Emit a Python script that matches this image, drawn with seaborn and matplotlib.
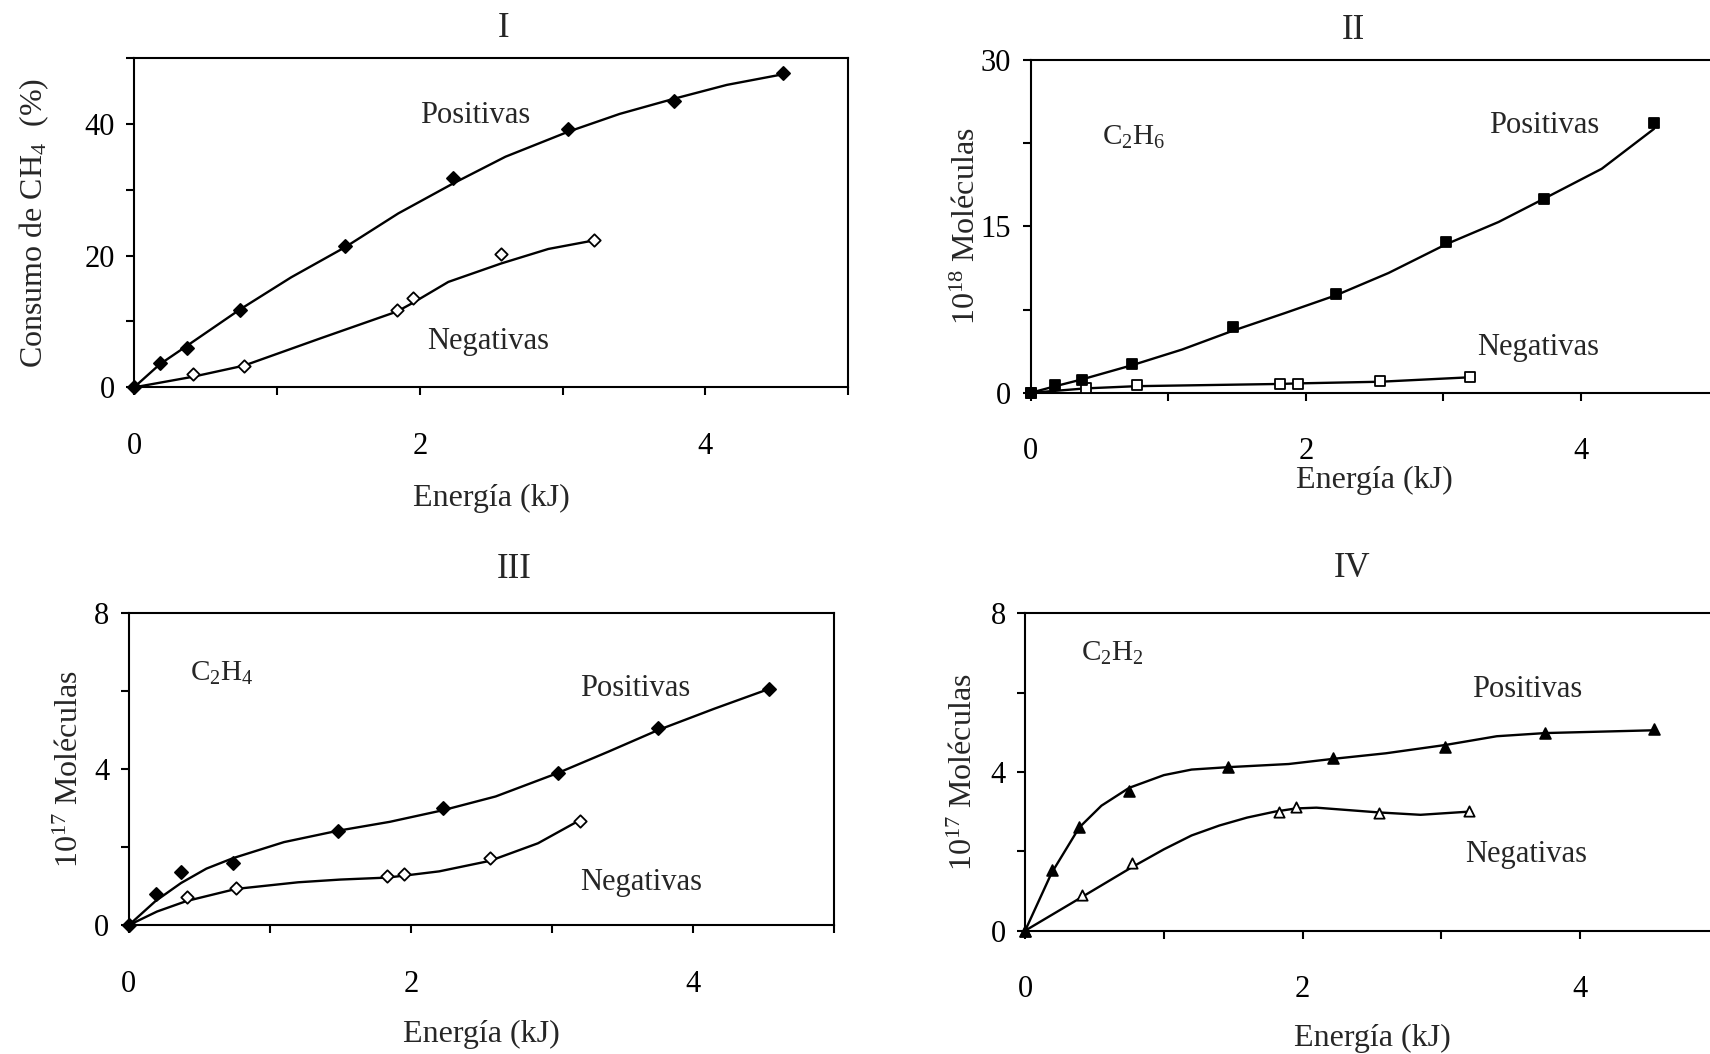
import numpy as np
import pandas as pd
import matplotlib
matplotlib.use("Agg")
import matplotlib.pyplot as plt
import seaborn as sns

# Values (energy in kJ)
# Panel I - CH4 consumption (%)
i_pos_x = [0, 0.18, 0.37, 0.74, 1.48, 2.23, 3.04, 3.78, 4.54]
i_pos_y = [0, 3.7, 6.0, 11.7, 21.5, 31.7, 39.2, 43.5, 47.7]
i_pos_fit_x = [0, 0.18, 0.37, 0.74, 1.1, 1.48, 1.85, 2.23, 2.6, 3.04, 3.4, 3.78, 4.15, 4.54]
i_pos_fit_y = [0, 3.5, 6.3, 11.8, 16.7, 21.3, 26.4, 30.9, 35.0, 38.8, 41.5, 43.8, 45.9, 47.5]
i_neg_x = [0, 0.41, 0.77, 1.84, 1.95, 2.57, 3.22]
i_neg_y = [0, 2.0, 3.3, 11.8, 13.5, 20.2, 22.3]
i_neg_fit_x = [0, 0.41, 0.77, 1.3, 1.84, 1.95, 2.2, 2.57, 2.9, 3.22]
i_neg_fit_y = [0, 1.6, 3.3, 7.4, 11.5, 12.8, 16.0, 18.8, 21.0, 22.3]

# Panel II - C2H6 (10^18 molecules)
ii_pos_x = [0, 0.18, 0.37, 0.74, 1.47, 2.22, 3.02, 3.73, 4.53]
ii_pos_y = [0, 0.7, 1.2, 2.6, 5.9, 8.9, 13.6, 17.5, 24.3]
ii_pos_fit_x = [0, 0.18, 0.37, 0.74, 1.1, 1.47, 1.85, 2.22, 2.6, 3.02, 3.4, 3.73, 4.15, 4.53]
ii_pos_fit_y = [0, 0.6, 1.2, 2.5, 3.9, 5.6, 7.2, 8.8, 10.8, 13.4, 15.4, 17.5, 20.2, 23.8]
ii_neg_x = [0, 0.40, 0.77, 1.81, 1.94, 2.54, 3.19]
ii_neg_y = [0, 0.4, 0.7, 0.8, 0.8, 1.1, 1.4]
ii_neg_fit = [0, 0.4, 0.6, 0.8, 0.85, 1.0, 1.4]

# Panel III - C2H4 (10^17 molecules)
iii_pos_x = [0, 0.19, 0.37, 0.74, 1.48, 2.23, 3.04, 3.75, 4.54]
iii_pos_y = [0, 0.79, 1.37, 1.59, 2.42, 3.0, 3.9, 5.05, 6.06]
iii_pos_fit_x = [0, 0.19, 0.37, 0.55, 0.74, 1.1, 1.48, 1.85, 2.23, 2.6, 3.04, 3.4, 3.75, 4.15, 4.54]
iii_pos_fit_y = [0, 0.62, 1.08, 1.45, 1.72, 2.13, 2.42, 2.65, 2.95, 3.3, 3.9, 4.45, 5.0, 5.55, 6.06]
iii_neg_x = [0, 0.41, 0.76, 1.83, 1.95, 2.56, 3.20]
iii_neg_y = [0, 0.73, 0.96, 1.26, 1.30, 1.72, 2.68]
iii_neg_fit_x = [0, 0.2, 0.41, 0.76, 1.2, 1.5, 1.83, 1.95, 2.2, 2.56, 2.9, 3.2]
iii_neg_fit_y = [0, 0.35, 0.62, 0.93, 1.1, 1.17, 1.22, 1.27, 1.38, 1.65, 2.1, 2.7]

# Panel IV - C2H2 (10^17 molecules)
iv_pos_x = [0, 0.19, 0.39, 0.75, 1.46, 2.22, 3.03, 3.75, 4.53]
iv_pos_y = [0, 1.53, 2.61, 3.51, 4.12, 4.35, 4.64, 4.97, 5.07]
iv_pos_fit_x = [0, 0.19, 0.39, 0.55, 0.75, 1.0, 1.2, 1.46, 1.9, 2.22, 2.6, 3.03, 3.4, 3.75, 4.53]
iv_pos_fit_y = [0, 1.45, 2.6, 3.15, 3.6, 3.92, 4.06, 4.12, 4.2, 4.33, 4.47, 4.68, 4.9, 4.98, 5.05]
iv_neg_x = [0, 0.41, 0.77, 1.83, 1.95, 2.55, 3.20]
iv_neg_y = [0, 0.91, 1.70, 2.99, 3.12, 2.96, 3.02]
iv_neg_fit_x = [0, 0.41, 0.77, 1.0, 1.2, 1.4, 1.6, 1.8, 1.95, 2.1, 2.55, 2.85, 3.2]
iv_neg_fit_y = [0, 0.85, 1.6, 2.05, 2.4, 2.65, 2.85, 3.0, 3.08, 3.1, 2.98, 2.92, 3.0]

sns.set_theme(style="ticks")
plt.rcParams.update({
    'font.family': ['Liberation Serif', 'DejaVu Serif'],
    'mathtext.fontset': 'stix',
    'font.size': 22,
    'axes.edgecolor': 'black',
    'axes.linewidth': 1.5,
    'xtick.color': 'black',
    'ytick.color': 'black',
    'xtick.major.width': 1.5,
    'ytick.major.width': 1.5,
    'xtick.major.size': 6,
    'ytick.major.size': 6,
})

fig = plt.figure(figsize=(17.1, 10.54), dpi=100)
axes = [
    fig.add_axes([0.0784, 0.6325, 0.4177, 0.3126]),
    fig.add_axes([0.6027, 0.6273, 0.4024, 0.3157]),
    fig.add_axes([0.0753, 0.1222, 0.4126, 0.2961]),
    fig.add_axes([0.5995, 0.1170, 0.4056, 0.3012]),
]


def draw_series(ax, fit_x, fit_y, x, y, marker, filled, size):
    sns.lineplot(x=fit_x, y=fit_y, ax=ax, color='black', linewidth=1.7,
                 sort=False, estimator=None)
    sns.scatterplot(x=x, y=y, ax=ax, marker=marker, s=size,
                    color='black' if filled else 'white',
                    edgecolor='black', linewidth=1.3, zorder=3, clip_on=False)


# negatives first so the filled positive marker sits on top at the origin
draw_series(axes[0], i_neg_fit_x, i_neg_fit_y, i_neg_x, i_neg_y, 'D', False, 40)
draw_series(axes[0], i_pos_fit_x, i_pos_fit_y, i_pos_x, i_pos_y, 'D', True, 45)
draw_series(axes[1], ii_neg_x, ii_neg_fit, ii_neg_x, ii_neg_y, 's', False, 50)
draw_series(axes[1], ii_pos_fit_x, ii_pos_fit_y, ii_pos_x, ii_pos_y, 's', True, 55)
draw_series(axes[2], iii_neg_fit_x, iii_neg_fit_y, iii_neg_x, iii_neg_y, 'D', False, 40)
draw_series(axes[2], iii_pos_fit_x, iii_pos_fit_y, iii_pos_x, iii_pos_y, 'D', True, 45)
draw_series(axes[3], iv_neg_fit_x, iv_neg_fit_y, iv_neg_x, iv_neg_y, '^', False, 55)
draw_series(axes[3], iv_pos_fit_x, iv_pos_fit_y, iv_pos_x, iv_pos_y, '^', True, 60)

# axis setup: (ymax, yticks, ylabels, ylabel, label x, xlabel y, title, title x, title y)
setup = [
    (50, [0, 10, 20, 30, 40, 50], ['0', '', '20', '', '40', ''],
     r'Consumo de CH$\mathregular{_4}$  (%)', -0.116, -0.292, 'I', 0.518, 1.09),
    (30, [0, 7.5, 15, 22.5, 30], ['0', '', '15', '', '30'],
     r'$\mathregular{10^{18}}$ Moléculas', -0.071, -0.219, 'II', 0.469, 1.09),
    (8, [0, 2, 4, 6, 8], ['0', '', '4', '', '8'],
     r'$\mathregular{10^{17}}$ Moléculas', -0.062, -0.305, 'III', 0.546, 1.14),
    (8, [0, 2, 4, 6, 8], ['0', '', '4', '', '8'],
     r'$\mathregular{10^{17}}$ Moléculas', -0.067, -0.295, 'IV', 0.472, 1.14),
]

for ax, (ymax, yt, yl, ylab, lx, xly, title, tx, ty) in zip(axes, setup):
    ax.set_xlim(0, 5)
    ax.set_ylim(0, ymax)
    ax.set_xticks([0, 1, 2, 3, 4, 5])
    ax.set_xticklabels(['0', '', '2', '', '4', ''])
    ax.set_yticks(yt)
    ax.set_yticklabels(yl)
    ax.tick_params(axis='x', direction='out', pad=26, labelsize=22)
    ax.tick_params(axis='y', direction='out', pad=8, labelsize=22)
    for s in ax.spines.values():
        s.set_visible(True)
        s.set_color('black')
    ax.set_xlabel('Energía (kJ)', fontsize=23)
    ax.xaxis.set_label_coords(0.5, xly)
    ax.set_ylabel(ylab, fontsize=23)
    ax.yaxis.set_label_coords(lx, 0.5)
    ax.text(tx, ty, title, transform=ax.transAxes,
            ha='center', va='center', fontsize=25)

# series labels
axes[0].text(2.39, 41.2, 'Positivas', ha='center', va='center', fontsize=22)
axes[0].text(2.48, 7.0, 'Negativas', ha='center', va='center', fontsize=22)
axes[1].text(0.75, 23.0, r'C$\mathregular{_2}$H$\mathregular{_6}$', ha='center', va='center', fontsize=21)
axes[1].text(3.73, 24.1, 'Positivas', ha='center', va='center', fontsize=22)
axes[1].text(3.69, 4.1, 'Negativas', ha='center', va='center', fontsize=22)
axes[2].text(0.66, 6.46, r'C$\mathregular{_2}$H$\mathregular{_4}$', ha='center', va='center', fontsize=21)
axes[2].text(3.59, 6.07, 'Positivas', ha='center', va='center', fontsize=22)
axes[2].text(3.63, 1.09, 'Negativas', ha='center', va='center', fontsize=22)
axes[3].text(0.63, 7.0, r'C$\mathregular{_2}$H$\mathregular{_2}$', ha='center', va='center', fontsize=21)
axes[3].text(3.62, 6.07, 'Positivas', ha='center', va='center', fontsize=22)
axes[3].text(3.61, 1.92, 'Negativas', ha='center', va='center', fontsize=22)

fig.savefig('out.png', dpi=100)
plt.close(fig)
